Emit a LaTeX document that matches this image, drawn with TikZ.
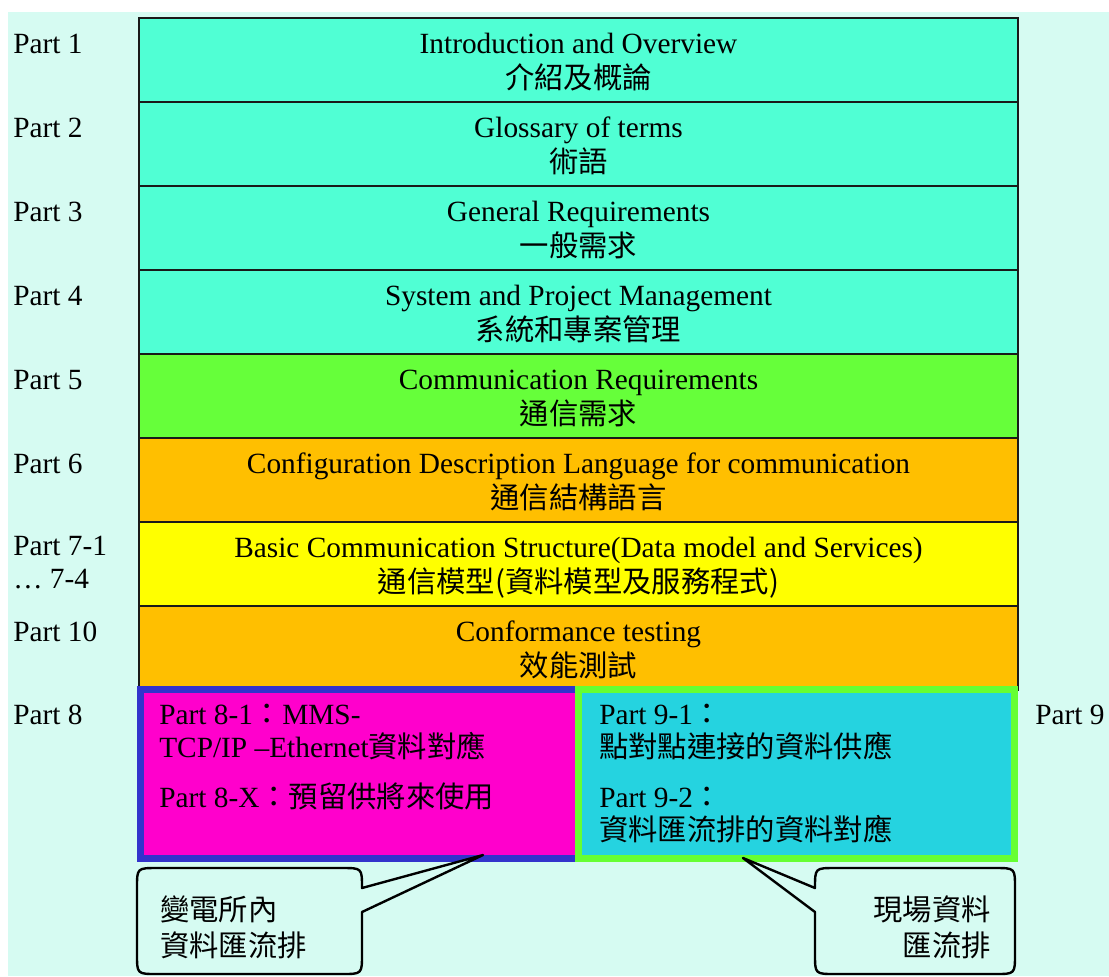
\documentclass[tikz,border=0pt]{standalone}
\usepackage{fontspec}
\setmainfont{Liberation Serif}
\newfontfamily\cjk{Noto Sans CJK TC}
\definecolor{bgc}{HTML}{D6FBF2}
\definecolor{tealc}{HTML}{50FFD4}
\definecolor{greenc}{HTML}{66FF3A}
\definecolor{orangec}{HTML}{FFBF00}
\definecolor{yellowc}{HTML}{FFFF00}
\definecolor{magc}{HTML}{FF00CC}
\definecolor{bluec}{HTML}{3333CC}
\definecolor{cyanc}{HTML}{25D3E0}
\definecolor{limec}{HTML}{66FF33}
\begin{document}
\begin{tikzpicture}[x=0.75pt,y=-0.75pt,
  rowbox/.style={draw=black!90, line width=2pt, minimum width=659.25pt, minimum height=63pt, inner sep=0pt, outer sep=0pt},
  en/.style={anchor=base, inner sep=0pt, font=\fontsize{22}{26}\selectfont},
  zh/.style={anchor=base, inner sep=0pt, font=\fontsize{22}{26}\selectfont\cjk},
  lab/.style={anchor=base west, inner sep=0pt, font=\fontsize{22}{26}\selectfont},
  callout/.style={draw=black, line width=1.8pt, fill=bgc, line join=round}
]
\useasboundingbox (0,0) rectangle (1109,976);
\fill[white] (0,0) rectangle (1109,976);
\fill[bgc] (8,12) rectangle (1109,976);

% rows
\node[rowbox, fill=tealc] (r1) at (578.5,60) {};
\node[rowbox, fill=tealc] (r2) at (578.5,144) {};
\node[rowbox, fill=tealc] (r3) at (578.5,228) {};
\node[rowbox, fill=tealc] (r4) at (578.5,312) {};
\node[rowbox, fill=greenc] (r5) at (578.5,396) {};
\node[rowbox, fill=orangec] (r6) at (578.5,480) {};
\node[rowbox, fill=yellowc] (r7) at (578.5,564) {};
\node[rowbox, fill=orangec] (r10) at (578.5,648) {};

\node[en] (e1) at (578.5,53) {Introduction and Overview};
\node[zh] (z1) at (578.5,88) {介紹及概論};
\node[en] (e2) at (578.5,137) {Glossary of terms};
\node[zh] (z2) at (578.5,172) {術語};
\node[en] (e3) at (578.5,221) {General Requirements};
\node[zh] (z3) at (578.5,256) {一般需求};
\node[en] (e4) at (578.5,305) {System and Project Management};
\node[zh] (z4) at (578.5,340) {系統和專案管理};
\node[en] (e5) at (578.5,389) {Communication Requirements};
\node[zh] (z5) at (578.5,424) {通信需求};
\node[en] (e6) at (578.5,473) {Configuration Description Language for communication};
\node[zh] (z6) at (578.5,508) {通信結構語言};
\node[en] (e7) at (578.5,557) {Basic Communication Structure(Data model and Services)};
\node[zh] (z7) at (578.5,592) {通信模型(資料模型及服務程式)};
\node[en] (e10) at (578.5,641) {Conformance testing};
\node[zh] (z10) at (578.5,676) {效能測試};

% part labels
\node[lab] (p1) at (13,53) {Part 1};
\node[lab] (p2) at (13,137) {Part 2};
\node[lab] (p3) at (13,221) {Part 3};
\node[lab] (p4) at (13,305) {Part 4};
\node[lab] (p5) at (13,389) {Part 5};
\node[lab] (p6) at (13,473) {Part 6};
\node[lab] (p7) at (13,555) {Part 7-1};
\node[lab] (p7b) at (13,588) {… 7-4};
\node[lab] (p10) at (13,641) {Part 10};
\node[lab] (p8) at (13,724) {Part 8};
\node[lab] (p9) at (1035,724) {Part 9};

% bottom boxes
\draw[fill=magc, draw=bluec, line width=5.25pt] (140.5,689.5) rectangle (578.5,858.5);
\draw[fill=cyanc, draw=limec, line width=5.25pt] (578.5,689.5) rectangle (1014.5,858.5);
\node (b8) at (359,774) {};
\node (b9) at (798,774) {};

\node[lab] (m1) at (159,724) {Part 8-1{\cjk ：}MMS-};
\node[lab] (m2) at (159,757) {TCP/IP –Ethernet{\cjk 資料對應}};
\node[lab] (m3) at (159,807) {Part 8-X{\cjk ：預留供將來使用}};

\node[lab] (g1) at (599,724) {Part 9-1{\cjk ：}};
\node[lab] (g2) at (599,757) {\cjk 點對點連接的資料供應};
\node[lab] (g3) at (599,807) {Part 9-2{\cjk ：}};
\node[lab] (g4) at (599,840) {\cjk 資料匯流排的資料對應};

% callouts
\draw[callout] (157,868) -- (342,868) .. controls (362,868) .. (362,888)
  -- (483,855) -- (362,912) -- (362,954) .. controls (362,974) .. (342,974)
  -- (157,974) .. controls (137,974) .. (137,954) -- (137,888) .. controls (137,868) .. cycle;
\draw[callout] (835,868) -- (995,868) .. controls (1015,868) .. (1015,888)
  -- (1015,954) .. controls (1015,974) .. (995,974) -- (835,974) .. controls (815,974) .. (815,954)
  -- (815,912) -- (743,858) -- (815,888) .. controls (815,868) .. cycle;

\node[lab, font=\fontsize{22}{26}\selectfont\cjk] (cl1) at (160,920) {變電所內};
\node[lab, font=\fontsize{22}{26}\selectfont\cjk] (cl2) at (160,956) {資料匯流排};
\node[anchor=base east, inner sep=0pt, font=\fontsize{22}{26}\selectfont\cjk] (cr1) at (991,920) {現場資料};
\node[anchor=base east, inner sep=0pt, font=\fontsize{22}{26}\selectfont\cjk] (cr2) at (991,956) {匯流排};
\end{tikzpicture}
\end{document}
